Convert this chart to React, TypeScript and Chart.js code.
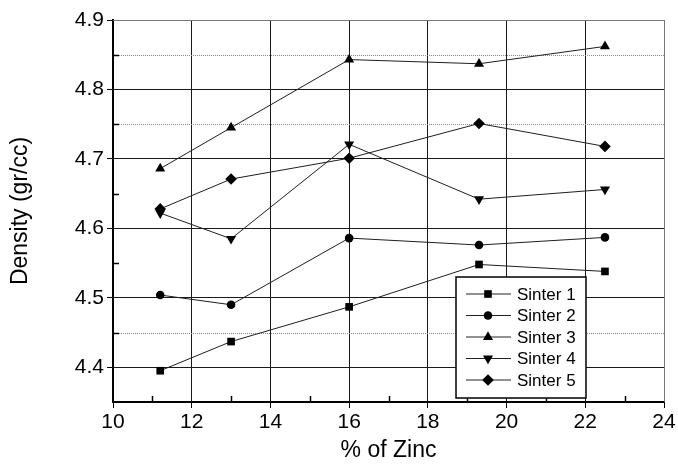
import React, { useEffect, useRef } from 'react';
import { Chart, registerables } from 'chart.js';
import { drawPoint } from 'chart.js/helpers';

Chart.register(...registerables);

const zinc = [11.2, 13, 16, 19.3, 22.5];
const sinter1 = [4.395, 4.437, 4.487, 4.548, 4.538];
const sinter2 = [4.504, 4.49, 4.586, 4.576, 4.587];
const sinter3 = [4.686, 4.745, 4.843, 4.837, 4.862];
const sinter4 = [4.622, 4.585, 4.721, 4.642, 4.656];
const sinter5 = [4.628, 4.671, 4.701, 4.751, 4.718];
const seriesNames = ['Sinter 1', 'Sinter 2', 'Sinter 3', 'Sinter 4', 'Sinter 5'];
const seriesValues = [sinter1, sinter2, sinter3, sinter4, sinter5];
const pointStyles = ['rect', 'circle', 'triangle', 'triangle', 'rectRot'];
const pointRotations = [0, 0, 0, 180, 0];
const pointRadii = [5.4, 4.3, 5.8, 5.8, 5.8];

const xTicks = [10, 12, 14, 16, 18, 20, 22, 24];
const yTicks = [4.4, 4.5, 4.6, 4.7, 4.8, 4.9];
const xMinorTicks = [11, 13, 15, 17, 19, 21, 23];
const yMinorTicks = [4.45, 4.55, 4.65, 4.75, 4.85];
const dottedLevels = [4.45, 4.75, 4.85];

const FONT = "'Liberation Sans', Arial, Helvetica, sans-serif";

const decorPlugin = {
  id: 'decor',
  beforeDatasetsDraw(chart: any) {
    const ctx = chart.ctx;
    const ca = chart.chartArea;
    const xs = chart.scales.x;
    const ys = chart.scales.y;
    ctx.save();
    // dotted minor grid lines
    ctx.strokeStyle = '#8a8a8a';
    ctx.lineWidth = 1;
    ctx.setLineDash([1, 1]);
    dottedLevels.forEach((v) => {
      const y = Math.round(ys.getPixelForValue(v)) + 0.5;
      ctx.beginPath();
      ctx.moveTo(ca.left, y);
      ctx.lineTo(ca.right, y);
      ctx.stroke();
    });
    ctx.setLineDash([]);
    // top/right frame
    ctx.strokeStyle = '#777';
    ctx.beginPath();
    ctx.moveTo(ca.left, ca.top + 0.5);
    ctx.lineTo(ca.right + 0.5, ca.top + 0.5);
    ctx.lineTo(ca.right + 0.5, ca.bottom);
    ctx.stroke();
    // inward minor ticks
    ctx.strokeStyle = '#000';
    ctx.lineWidth = 1.5;
    yMinorTicks.forEach((v) => {
      const y = Math.round(ys.getPixelForValue(v)) + 0.5;
      ctx.beginPath();
      ctx.moveTo(ca.left, y);
      ctx.lineTo(ca.left + 6, y);
      ctx.stroke();
    });
    xMinorTicks.forEach((v) => {
      const x = Math.round(xs.getPixelForValue(v)) + 0.5;
      ctx.beginPath();
      ctx.moveTo(x, ca.bottom);
      ctx.lineTo(x, ca.bottom - 6);
      ctx.stroke();
    });
    ctx.restore();
  },
  afterDraw(chart: any) {
    const ctx = chart.ctx;
    const ca = chart.chartArea;
    const bx = ca.left + 343;
    const by = ca.top + 257;
    const bw = 130;
    const bh = 121;
    ctx.save();
    ctx.fillStyle = '#fff';
    ctx.fillRect(bx, by, bw, bh);
    ctx.strokeStyle = '#000';
    ctx.lineWidth = 1.5;
    ctx.strokeRect(bx, by, bw, bh);
    ctx.font = `17px ${FONT}`;
    ctx.textBaseline = 'middle';
    ctx.textAlign = 'left';
    seriesNames.forEach((name, i) => {
      const ry = by + 17 + i * 21.5;
      ctx.strokeStyle = '#222';
      ctx.lineWidth = 1;
      ctx.beginPath();
      ctx.moveTo(bx + 10, ry);
      ctx.lineTo(bx + 55, ry);
      ctx.stroke();
      ctx.fillStyle = '#000';
      drawPoint(ctx, {
        pointStyle: pointStyles[i],
        rotation: pointRotations[i],
        radius: pointRadii[i],
        borderWidth: 0,
      } as any, bx + 32, ry);
      ctx.fillStyle = '#000';
      ctx.fillText(name, bx + 61, ry + 1);
    });
    ctx.restore();
  },
};

export default function App() {
  const ref = useRef<HTMLCanvasElement | null>(null);
  useEffect(() => {
    if (!ref.current) return;
    const chart = new Chart(ref.current, {
      type: 'line',
      data: {
        datasets: seriesValues.map((vals, i) => ({
          label: seriesNames[i],
          data: zinc.map((x, j) => ({ x, y: vals[j] })),
          borderColor: '#1e1e1e',
          borderWidth: 1,
          backgroundColor: '#000',
          pointBackgroundColor: '#000',
          pointBorderColor: '#000',
          pointBorderWidth: 0,
          pointStyle: pointStyles[i] as any,
          rotation: pointRotations[i],
          pointRadius: pointRadii[i],
          tension: 0,
          fill: false,
        })),
      },
      plugins: [decorPlugin],
      options: {
        animation: false,
        responsive: false,
        devicePixelRatio: 1,
        layout: { padding: { top: 20, right: 14, bottom: 0, left: 0 } },
        plugins: { legend: { display: false }, tooltip: { enabled: false } },
        scales: {
          x: {
            type: 'linear',
            min: 10,
            max: 24,
            afterBuildTicks: (s: any) => {
              s.ticks = xTicks.map((v) => ({ value: v }));
            },
            afterFit: (s: any) => {
              s.height = 62;
            },
            ticks: {
              font: { family: FONT, size: 21 },
              color: '#000',
              padding: 2,
              maxRotation: 0,
              callback: (v: any) => String(v),
            },
            grid: {
              color: (c: any) => (c.tick && c.tick.value === 24 ? '#777' : '#1a1a1a'),
              lineWidth: 1,
              tickLength: 6,
              tickColor: '#000',
            },
            border: { color: '#000', width: 2 },
            title: {
              display: true,
              text: '% of Zinc',
              font: { family: FONT, size: 23 },
              color: '#000',
              padding: 0,
            },
          },
          y: {
            type: 'linear',
            min: 4.35,
            max: 4.9,
            afterBuildTicks: (s: any) => {
              s.ticks = yTicks.map((v) => ({ value: v }));
            },
            afterFit: (s: any) => {
              s.width = 113;
            },
            ticks: {
              font: { family: FONT, size: 21 },
              color: '#000',
              padding: 3,
              callback: (v: any) => Number(v).toFixed(1),
            },
            grid: {
              color: (c: any) => (c.tick && Math.abs(c.tick.value - 4.9) < 1e-6 ? '#777' : '#1a1a1a'),
              lineWidth: 1,
              tickLength: 6,
              tickColor: '#000',
            },
            border: { color: '#000', width: 2 },
            title: {
              display: true,
              text: 'Density (gr/cc)',
              font: { family: FONT, size: 23 },
              color: '#000',
              padding: { top: 7, bottom: 0 },
            },
          },
        },
      },
    } as any);
    return () => chart.destroy();
  }, []);
  return (
    <div style={{ position: 'fixed', left: 0, top: 0, width: 678, height: 464, background: '#fff' }}>
      <canvas ref={ref} width={678} height={464} style={{ display: 'block', width: 678, height: 464 }} />
    </div>
  );
}
